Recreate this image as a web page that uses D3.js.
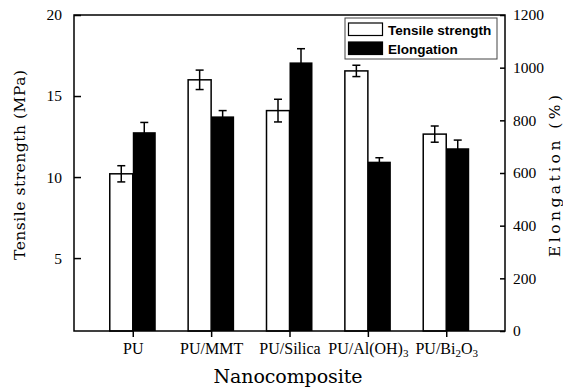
<!DOCTYPE html>
<html>
<head>
<meta charset="utf-8">
<script src="https://cdn.jsdelivr.net/npm/d3@7"></script>
<style>
  body { margin: 0; background: #fff; }
  svg { display: block; }
</style>
</head>
<body>
<div id="chart"></div>
<script>
const width = 563;
const height = 391;

// data
const categories = ["PU", "PU/MMT", "PU/Silica", "PU/Al(OH)3", "PU/Bi2O3"];
const tensile    = [10.2, 16.0, 14.1, 16.55, 12.65];   // MPa
const tensileErr = [0.5, 0.6, 0.7, 0.35, 0.5];
const elong      = [755, 815, 1020, 643, 694];          // %
const elongErr   = [37, 22, 52, 15, 31];
const leftTicks  = [5, 10, 15, 20];
const rightTicks = [0, 200, 400, 600, 800, 1000, 1200];

// label parts: [text, isSubscript]
const labelParts = {
  "PU": [["PU", false]],
  "PU/MMT": [["PU/MMT", false]],
  "PU/Silica": [["PU/Silica", false]],
  "PU/Al(OH)3": [["PU/Al(OH)", false], ["3", true]],
  "PU/Bi2O3": [["PU/Bi", false], ["2", true], ["O", false], ["3", true]]
};

const plot = {left: 74, right: 505, top: 15, bottom: 331};
const barW = 23;

const svg = d3.select("#chart").append("svg")
    .attr("width", width)
    .attr("height", height);

const x = d3.scalePoint()
    .domain(categories)
    .range([plot.left, plot.right])
    .padding(0.75);

const yL = d3.scaleLinear().domain([0.5, 20]).range([plot.bottom, plot.top]);
const yR = d3.scaleLinear().domain([0, 1200]).range([plot.bottom, plot.top]);

const rows = categories.map((c, i) => ({
  cat: c, t: tensile[i], te: tensileErr[i], e: elong[i], ee: elongErr[i]
}));

// tensile bars (white, left of tick)
svg.append("g")
  .selectAll("rect")
  .data(rows)
  .join("rect")
    .attr("x", d => x(d.cat) - barW)
    .attr("y", d => yL(d.t))
    .attr("width", barW)
    .attr("height", d => plot.bottom - yL(d.t))
    .attr("fill", "#fff")
    .attr("stroke", "#000")
    .attr("stroke-width", 1.5);

// elongation bars (black, right of tick)
svg.append("g")
  .selectAll("rect")
  .data(rows)
  .join("rect")
    .attr("x", d => x(d.cat))
    .attr("y", d => yR(d.e))
    .attr("width", barW)
    .attr("height", d => plot.bottom - yR(d.e))
    .attr("fill", "#000");

function errorBars(data, cx, lo, hi) {
  const g = svg.append("g").attr("stroke", "#000").attr("stroke-width", 1.5);
  g.selectAll(".v").data(data).join("line")
      .attr("x1", cx).attr("x2", cx).attr("y1", lo).attr("y2", hi);
  g.selectAll(".t").data(data).join("line")
      .attr("x1", d => cx(d) - 4).attr("x2", d => cx(d) + 4).attr("y1", hi).attr("y2", hi);
  g.selectAll(".b").data(data).join("line")
      .attr("x1", d => cx(d) - 4).attr("x2", d => cx(d) + 4).attr("y1", lo).attr("y2", lo);
}
errorBars(rows, d => x(d.cat) - barW / 2, d => yL(d.t - d.te), d => yL(d.t + d.te));
errorBars(rows, d => x(d.cat) + barW / 2, d => yR(d.e - d.ee), d => yR(d.e + d.ee));

// frame
svg.append("rect")
    .attr("x", plot.left).attr("y", plot.top)
    .attr("width", plot.right - plot.left)
    .attr("height", plot.bottom - plot.top)
    .attr("fill", "none")
    .attr("stroke", "#000")
    .attr("stroke-width", 1.5);

const numFont = "'Liberation Serif', serif";
const titleFont = "'DejaVu Serif', serif";

// left axis (ticks inward)
const axL = svg.append("g").attr("transform", `translate(${plot.left},0)`)
    .call(d3.axisLeft(yL).tickValues(leftTicks).tickFormat(d3.format("d"))
      .tickSizeInner(-7).tickSizeOuter(0).tickPadding(12));
axL.attr("font-family", numFont).attr("font-size", 15.5);
axL.select(".domain").remove();
axL.selectAll("line").attr("stroke-width", 1.5);
axL.selectAll("text").attr("fill", "#000");

// right axis (ticks inward)
const axR = svg.append("g").attr("transform", `translate(${plot.right},0)`)
    .call(d3.axisRight(yR).tickValues(rightTicks).tickFormat(d3.format("d"))
      .tickSizeInner(-5).tickSizeOuter(0).tickPadding(8));
axR.attr("font-family", numFont).attr("font-size", 15.5);
axR.select(".domain").remove();
axR.selectAll("line").attr("stroke-width", 1.5);
axR.selectAll("text").attr("fill", "#000");

// bottom axis
const axB = svg.append("g").attr("transform", `translate(0,${plot.bottom})`)
    .call(d3.axisBottom(x).tickSizeInner(6).tickSizeOuter(0).tickPadding(8).tickFormat(""));
axB.attr("font-family", numFont).attr("font-size", 16);
axB.select(".domain").remove();
axB.selectAll("line").attr("stroke-width", 1.5);
axB.selectAll(".tick").append("text")
    .attr("y", 23)
    .attr("text-anchor", "middle")
    .attr("fill", "#000")
    .each(function(d) {
      const t = d3.select(this);
      labelParts[d].forEach(([s, sub]) => {
        const sp = t.append("tspan").text(s);
        if (sub) sp.attr("font-size", 11).attr("dy", 3);
        else sp.attr("dy", t.selectAll("tspan").size() > 1 ? -3 : 0);
      });
    });

// axis titles
svg.append("text")
    .attr("transform", `translate(25,165) rotate(-90)`)
    .attr("text-anchor", "middle")
    .attr("font-family", titleFont)
    .attr("font-size", 15.5)
    .attr("textLength", 190)
    .attr("lengthAdjust", "spacing")
    .text("Tensile strength (MPa)");

svg.append("text")
    .attr("transform", `translate(560,176) rotate(-90)`)
    .attr("text-anchor", "middle")
    .attr("font-family", titleFont)
    .attr("font-size", 15.5)
    .attr("textLength", 162)
    .attr("lengthAdjust", "spacing")
    .text("Elongation (%)");

svg.append("text")
    .attr("x", 288).attr("y", 383)
    .attr("text-anchor", "middle")
    .attr("font-family", titleFont)
    .attr("font-size", 19)
    .attr("textLength", 149)
    .attr("lengthAdjust", "spacing")
    .text("Nanocomposite");

// legend
const legend = svg.append("g");
legend.append("rect")
    .attr("x", 345).attr("y", 18).attr("width", 152).attr("height", 41)
    .attr("fill", "#fff").attr("stroke", "#444").attr("stroke-width", 1);
const legendItems = [["Tensile strength", "#fff"], ["Elongation", "#000"]];
legendItems.forEach(([name, fill], i) => {
  legend.append("rect")
      .attr("x", 348.5).attr("y", 23 + i * 19).attr("width", 34).attr("height", 12.5)
      .attr("fill", fill).attr("stroke", "#000").attr("stroke-width", 1.2);
  legend.append("text")
      .attr("x", 388).attr("y", 34.5 + i * 19)
      .attr("font-family", "'Liberation Sans', Arial, sans-serif")
      .attr("font-weight", "bold")
      .attr("font-size", 13.5)
      .text(name);
});
</script>
</body>
</html>
